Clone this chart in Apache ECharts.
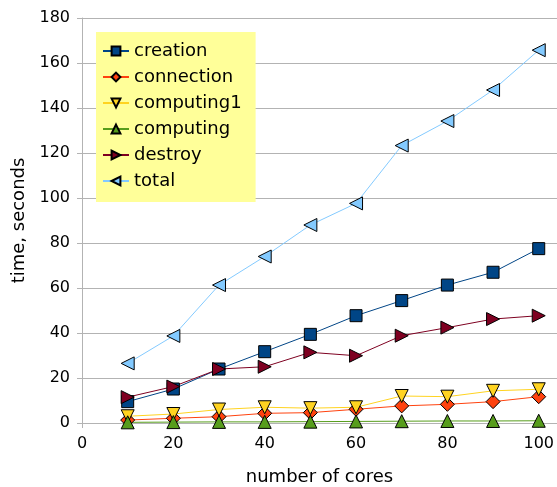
<!DOCTYPE html>
<html>
<head>
<meta charset="utf-8">
<script src="https://cdn.jsdelivr.net/npm/echarts@6/dist/echarts.min.js"></script>
<style>
  html, body { margin: 0; padding: 0; background: #fff; }
  #chart { width: 557px; height: 487px; }
</style>
</head>
<body>
<div id="chart"></div>
<script>
  // cores on the x axis
  var cores = [10, 20, 30, 40, 50, 60, 70, 80, 90, 100];
  // times in seconds
  var creation = [9.5, 15.1, 24, 31.7, 39.4, 47.7, 54.4, 61.3, 67, 77.5];
  var connection = [1.3, 2.1, 2.8, 4.3, 4.6, 6.1, 7.6, 8.3, 9.5, 11.7];
  var computing1 = [3.0, 4.0, 6.0, 7.0, 6.6, 7.0, 12.0, 11.7, 14.3, 15.0];
  var computing = [0.3, 0.4, 0.5, 0.5, 0.6, 0.7, 0.8, 0.9, 0.9, 1.0];
  var destroy = [11.5, 16.2, 24, 25, 31.4, 29.9, 38.8, 42.4, 46.2, 47.7];
  var total = [26.5, 38.7, 61.3, 74, 88, 97.6, 123.3, 134.2, 148, 165.7];

  function pairs(arr) {
    return cores.map(function (c, i) { return [c, arr[i]]; });
  }

  var FONT = "DejaVu Sans";

  function line(name, data, color, symbol, rotate, size) {
    return {
      name: name,
      type: "line",
      data: pairs(data),
      symbol: symbol,
      symbolRotate: rotate,
      symbolSize: size,
      showAllSymbol: true,
      lineStyle: { color: color, width: 1 },
      itemStyle: { color: color, borderColor: "#000", borderWidth: 1 },
      emphasis: { disabled: true },
      animation: false
    };
  }

  var chart = echarts.init(document.getElementById("chart"));
  chart.setOption({
    animation: false,
    textStyle: { fontFamily: FONT },
    grid: { left: 82, top: 18, right: 0, bottom: 64, outerBoundsMode: "none" },
    legend: {
      orient: "vertical",
      left: 96,
      top: 32,
      backgroundColor: "#ffff99",
      padding: [10, 14, 12, 6],
      itemGap: 8,
      itemWidth: 26,
      itemHeight: 11,
      textStyle: { fontFamily: FONT, fontSize: 18, color: "#000" },
      data: ["creation", "connection", "computing1", "computing", "destroy", "total"]
    },
    xAxis: {
      type: "value",
      min: 0,
      max: 104,
      interval: 20,
      name: "number of cores",
      nameLocation: "middle",
      nameGap: 45,
      nameTextStyle: { fontFamily: FONT, fontSize: 18, color: "#000" },
      axisLine: { lineStyle: { color: "#b3b3b3" } },
      axisTick: { show: true, inside: false, length: 5, lineStyle: { color: "#b3b3b3" } },
      axisLabel: {
        fontFamily: FONT, fontSize: 16, color: "#000", margin: 13,
        showMaxLabel: false,
        formatter: function (v) { return v % 20 === 0 ? v : ""; }
      },
      splitLine: { show: false }
    },
    yAxis: {
      type: "value",
      min: 0,
      max: 180,
      interval: 20,
      name: "time, seconds",
      nameLocation: "middle",
      nameRotate: 90,
      nameGap: 47,
      nameTextStyle: { fontFamily: FONT, fontSize: 18, color: "#000" },
      axisLine: { show: true, lineStyle: { color: "#b3b3b3" } },
      axisTick: { show: true, length: 5, lineStyle: { color: "#b3b3b3" } },
      axisLabel: { fontFamily: FONT, fontSize: 16, color: "#000", margin: 12 },
      splitLine: { lineStyle: { color: "#b3b3b3" } }
    },
    series: [
      line("creation", creation, "#004586", "rect", 0, 12),
      line("connection", connection, "#ff420e", "diamond", 0, 14),
      line("computing1", computing1, "#ffd320", "triangle", 180, 13),
      line("computing", computing, "#579d1c", "triangle", 0, 13),
      line("destroy", destroy, "#7e0021", "triangle", -90, 13),
      line("total", total, "#83caff", "triangle", 90, 13)
    ]
  });
</script>
</body>
</html>
